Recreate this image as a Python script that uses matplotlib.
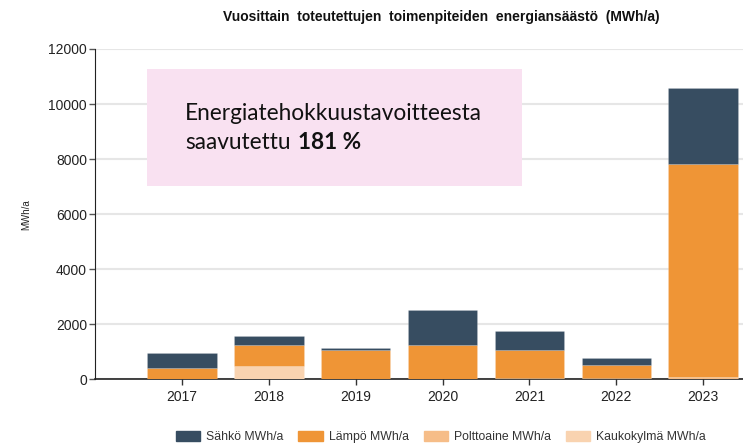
import numpy as np
import matplotlib
matplotlib.use('Agg')
import matplotlib.pyplot as plt
from matplotlib.patches import Rectangle

# data (MWh/a)
years = ['2017', '2018', '2019', '2020', '2021', '2022', '2023']
kaukokylma = [0, 470, 0, 0, 0, 0, 0]
polttoaine = [0, 0, 0, 0, 30, 40, 80]
lampo = [400, 785, 1055, 1255, 1025, 470, 7730]
sahko = [545, 330, 70, 1250, 710, 255, 2760]

series_names = ['Sähkö MWh/a', 'Lämpö MWh/a', 'Polttoaine MWh/a', 'Kaukokylmä MWh/a']
colors = ['#374d61', '#ef9536', '#f6bd88', '#f9d3b0']

plt.rcParams['font.family'] = ['Liberation Sans', 'DejaVu Sans']

fig = plt.figure(figsize=(7.43, 4.44), dpi=100)
ax = fig.add_axes([95.3 / 743, 1 - 379.3 / 444, 1 - 95.3 / 743, (379.3 - 49) / 444])

x = np.arange(len(years))
w = 0.8
edge = (1, 1, 1, 0.25)

# stacking order: Kaukokylmä / Polttoaine at bottom, then Lämpö, Sähkö on top
bottom = np.zeros(len(years))
stack = [(kaukokylma, 3), (polttoaine, 2), (lampo, 1), (sahko, 0)]
for vals, i in stack:
    vals = np.array(vals, dtype=float)
    ax.bar(x, vals, w, bottom=bottom, color=colors[i], edgecolor=edge,
           linewidth=0.4, zorder=3)
    bottom += vals

ax.set_xlim(-1, 6.46)
ax.set_ylim(0, 12000)
ax.set_yticks(np.arange(0, 12001, 2000))
ax.set_xticks(x)
ax.set_xticklabels(years)
ax.tick_params(axis='both', labelsize=10, length=4, width=1)
ax.tick_params(axis='y', colors='#555555', labelcolor='#222222', pad=2)
ax.tick_params(axis='x', colors='#333333', labelcolor='#222222', pad=4)
ax.grid(axis='y', color='#e6e6e6', linewidth=1.5, zorder=0)
ax.set_axisbelow(True)
for s in ['top', 'right']:
    ax.spines[s].set_visible(False)
ax.spines['left'].set_color('#222222')
ax.spines['bottom'].set_color('#222222')
ax.spines['bottom'].set_linewidth(1.2)

ax.set_ylabel('MWh/a', fontsize=7, labelpad=12, color='#222222')

fig.text(441 / 743, 1 - 17 / 444, 'Vuosittain  toteutettujen  toimenpiteiden  energiansäästö  (MWh/a)',
         ha='center', va='center', fontsize=10, fontweight='bold', color='#111111')

# pink annotation box
box = Rectangle((147 / 743, 1 - 186 / 444), (522 - 147) / 743, (186 - 69) / 444,
                transform=fig.transFigure, facecolor='#f9e1f1', edgecolor='none', zorder=5)
fig.patches.append(box)
fs = 16.3
fig.text(185 / 743, 1 - 120 / 444, 'Energiatehokkuustavoitteesta', fontsize=fs,
         family=['Lato', 'DejaVu Sans'], color='#111111', va='baseline', zorder=6)
t2 = fig.text(185 / 743, 1 - 149 / 444, 'saavutettu', fontsize=fs,
              family=['Lato', 'DejaVu Sans'], color='#111111', va='baseline', zorder=6)
fig.canvas.draw()
bb = t2.get_window_extent()
fig.text(bb.x1 / fig.bbox.width + 8 / 743, 1 - 149 / 444, '181 %', fontsize=fs, fontweight='bold',
         family=['Lato', 'DejaVu Sans'], color='#111111', va='baseline', zorder=6)

handles = [Rectangle((0, 0), 1, 1, color=c) for c in colors]
leg = fig.legend(handles, series_names, loc='center', bbox_to_anchor=(441 / 743, 1 - 437 / 444),
                 ncol=4, frameon=False, fontsize=8.8, handlelength=2.0, handleheight=0.9,
                 columnspacing=1.2, handletextpad=0.5)
for t in leg.get_texts():
    t.set_color('#333333')

fig.savefig('out.png', dpi=100)
